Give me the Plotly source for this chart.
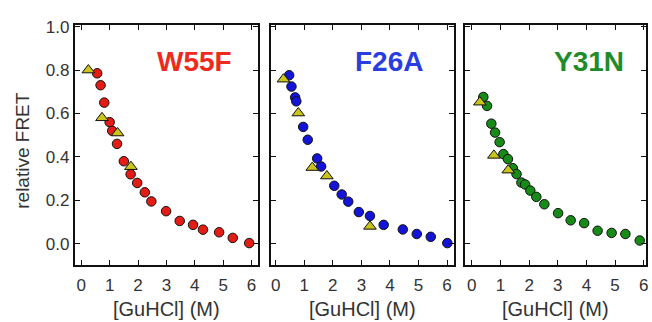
import plotly.graph_objects as go

# Equilibrium denaturation: relative FRET vs [GuHCl] for three mutants
mutants = ["W55F", "F26A", "Y31N"]
label_colors = ["#ee2a1e", "#2a3de0", "#1f8c2a"]
dot_colors = ["#e31d15", "#1414d8", "#178a17"]

w55f_x = [0.56, 0.68, 0.81, 1.00, 1.09, 1.26, 1.50, 1.74, 1.97, 2.24, 2.47, 2.99, 3.47, 3.94, 4.29, 4.86, 5.34, 5.92]
w55f_y = [0.785, 0.73, 0.65, 0.56, 0.52, 0.46, 0.38, 0.32, 0.28, 0.237, 0.195, 0.15, 0.105, 0.087, 0.065, 0.053, 0.027, 0.003]
w55f_tri_x = [0.25, 0.73, 1.28, 1.75]
w55f_tri_y = [0.80, 0.58, 0.51, 0.355]

f26a_x = [0.47, 0.55, 0.68, 0.72, 0.96, 1.12, 1.45, 1.59, 2.05, 2.31, 2.54, 2.91, 3.30, 3.78, 4.45, 4.94, 5.43, 6.01]
f26a_y = [0.776, 0.724, 0.674, 0.656, 0.538, 0.479, 0.393, 0.356, 0.267, 0.227, 0.194, 0.146, 0.128, 0.087, 0.066, 0.045, 0.032, 0.003]
f26a_tri_x = [0.27, 0.79, 1.28, 1.79, 3.30]
f26a_tri_y = [0.758, 0.602, 0.351, 0.312, 0.080]

y31n_x = [0.40, 0.53, 0.68, 0.81, 0.97, 1.10, 1.26, 1.43, 1.56, 1.73, 1.86, 2.04, 2.25, 2.53, 3.01, 3.45, 3.92, 4.39, 4.88, 5.36, 5.86]
y31n_y = [0.676, 0.635, 0.553, 0.512, 0.468, 0.413, 0.39, 0.348, 0.321, 0.282, 0.273, 0.245, 0.216, 0.182, 0.141, 0.108, 0.095, 0.06, 0.05, 0.045, 0.015]
y31n_tri_x = [0.28, 0.77, 1.27]
y31n_tri_y = [0.652, 0.407, 0.339]

x_ticks = [0, 1, 2, 3, 4, 5, 6]
y_ticks = [0.0, 0.2, 0.4, 0.6, 0.8, 1.0]
x_title = "[GuHCl] (M)"
y_title = "relative FRET"

circles = [(w55f_x, w55f_y), (f26a_x, f26a_y), (y31n_x, y31n_y)]
triangles = [(w55f_tri_x, w55f_tri_y), (f26a_tri_x, f26a_tri_y), (y31n_tri_x, y31n_tri_y)]

W, H = 652, 322
x_px = [(75, 258.5), (272.3, 455.3), (466.7, 648.0)]
x_ranges = [(-0.23, 6.22), (-0.15, 6.24), (-0.23, 6.08)]
name_right_px = [235, 426, 628]
y_px = (18.5, 264.0)
y_range = (-0.099, 1.007)

FONT = "Arial, Liberation Sans, sans-serif"
TEXT = "#333"

fig = go.Figure()
for i in range(3):
    xa = "x" if i == 0 else f"x{i+1}"
    ya = "y" if i == 0 else f"y{i+1}"
    cx, cy = circles[i]
    fig.add_trace(go.Scatter(
        x=cx, y=cy, mode="markers", xaxis=xa, yaxis=ya, showlegend=False,
        marker=dict(symbol="circle", size=9.5, color=dot_colors[i],
                    line=dict(color="#111", width=1))))
    tx, ty = triangles[i]
    fig.add_trace(go.Scatter(
        x=tx, y=ty, mode="markers", xaxis=xa, yaxis=ya, showlegend=False,
        marker=dict(symbol="triangle-up", size=11, color="#c9c31a",
                    line=dict(color="#111", width=1))))

    common = dict(showline=True, linewidth=2, linecolor="#111", mirror="ticks",
                  ticks="inside", ticklen=5, tickwidth=1, tickcolor="#111",
                  showgrid=False, zeroline=False,
                  tickfont=dict(family=FONT, size=17, color=TEXT))
    xkey = "xaxis" if i == 0 else f"xaxis{i+1}"
    ykey = "yaxis" if i == 0 else f"yaxis{i+1}"
    fig.update_layout(**{
        xkey: dict(domain=[x_px[i][0] / W, x_px[i][1] / W], range=list(x_ranges[i]),
                   tickvals=x_ticks, anchor=ya, ticklabelstandoff=3, **common),
        ykey: dict(domain=[1 - y_px[1] / H, 1 - y_px[0] / H], range=list(y_range),
                   tickvals=y_ticks, tickformat=".1f", anchor=xa,
                   showticklabels=(i == 0), **common),
    })

    # mutant name in the upper right of each panel
    fig.add_annotation(
        text=f"<b>{mutants[i]}</b>", xref="paper", yref="paper",
        x=name_right_px[i] / W, y=1 - 56 / H, xanchor="right", yanchor="middle",
        showarrow=False, font=dict(family=FONT, size=28, color=label_colors[i]))
    # x axis title under each panel
    fig.add_annotation(
        text=x_title, xref="paper", yref="paper",
        x=(x_px[i][0] + x_px[i][1]) / 2 / W, y=1 - 309 / H,
        xanchor="center", yanchor="middle", showarrow=False,
        font=dict(family=FONT, size=20, color=TEXT))

fig.add_annotation(
    text=y_title, xref="paper", yref="paper", x=23 / W, y=1 - 146 / H,
    xanchor="center", yanchor="middle", textangle=-90, showarrow=False,
    font=dict(family=FONT, size=19, color=TEXT))

fig.update_layout(width=W, height=H, margin=dict(l=0, r=0, t=0, b=0),
                  paper_bgcolor="white", plot_bgcolor="white")
fig.write_html("out.html")
